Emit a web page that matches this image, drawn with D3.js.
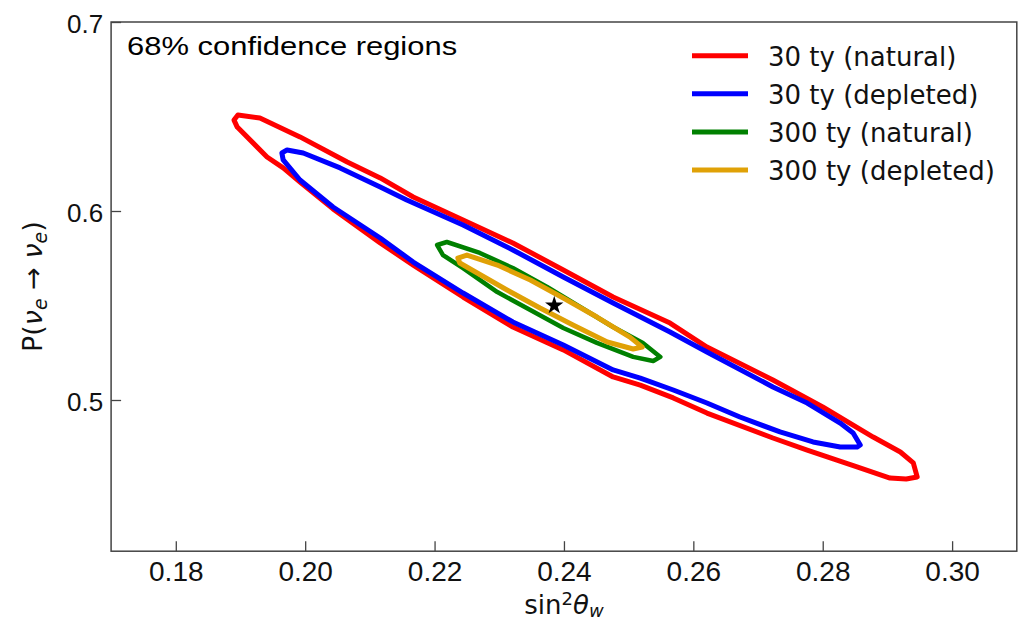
<!DOCTYPE html>
<html lang="en">
<head>
  <meta charset="UTF-8">
  <title>68% confidence regions</title>
  <script src="https://d3js.org/d3.v7.min.js"></script>
  <style>
    body { margin: 0; background: #fff; }
    svg { display: block; font-family: 'DejaVu Sans', sans-serif; }
  </style>
</head>
<body>
  <div id="chart"></div>
  <script>
    // axis ranges and ticks
    const xDomain = [0.17, 0.31];
    const yDomain = [0.42, 0.7];
    const xTicks = [0.18, 0.20, 0.22, 0.24, 0.26, 0.28, 0.30];
    const yTicks = [0.5, 0.6, 0.7];

    const seriesNames = ["30 ty (natural)", "30 ty (depleted)", "300 ty (natural)", "300 ty (depleted)"];

    // contour points: [sin^2 theta_w, P]
    const natural30 = [
      [0.1890, 0.6481], [0.1896, 0.6508], [0.1930, 0.6492], [0.1992, 0.6392], [0.2065, 0.6259],
      [0.2116, 0.6175], [0.2167, 0.6074], [0.2244, 0.5952], [0.2321, 0.5831], [0.2399, 0.5688],
      [0.2476, 0.5545], [0.2564, 0.5407], [0.2621, 0.5280], [0.2723, 0.5106], [0.2800, 0.4963],
      [0.2878, 0.4804], [0.2920, 0.4725], [0.2940, 0.4667], [0.2946, 0.4593], [0.2929, 0.4582],
      [0.2904, 0.4587], [0.2853, 0.4646], [0.2776, 0.4735], [0.2723, 0.4799], [0.2621, 0.4931],
      [0.2569, 0.5011], [0.2518, 0.5079], [0.2476, 0.5122], [0.2399, 0.5265], [0.2321, 0.5386],
      [0.2244, 0.5545], [0.2167, 0.5714], [0.2116, 0.5831], [0.2043, 0.6011], [0.1992, 0.6153],
      [0.1966, 0.6228], [0.1941, 0.6286], [0.1895, 0.6444]
    ];
    const depleted30 = [
      [0.1964, 0.6307], [0.1972, 0.6323], [0.1997, 0.6307], [0.2054, 0.6228], [0.2116, 0.6127],
      [0.2157, 0.6058], [0.2244, 0.5926], [0.2321, 0.5794], [0.2399, 0.5651], [0.2476, 0.5513],
      [0.2564, 0.5360], [0.2621, 0.5254], [0.2723, 0.5069], [0.2776, 0.4984], [0.2827, 0.4878],
      [0.2847, 0.4825], [0.2858, 0.4762], [0.2853, 0.4751], [0.2827, 0.4751], [0.2785, 0.4778],
      [0.2734, 0.4831], [0.2672, 0.4910], [0.2621, 0.4984], [0.2569, 0.5053], [0.2518, 0.5116],
      [0.2476, 0.5159], [0.2399, 0.5291], [0.2321, 0.5413], [0.2244, 0.5566], [0.2167, 0.5730],
      [0.2116, 0.5857], [0.2043, 0.6021], [0.1992, 0.6164], [0.1966, 0.6270]
    ];
    const natural300 = [
      [0.2204, 0.5820], [0.2219, 0.5836], [0.2270, 0.5778], [0.2321, 0.5698], [0.2374, 0.5598],
      [0.2425, 0.5492], [0.2476, 0.5386], [0.2522, 0.5302], [0.2549, 0.5228], [0.2538, 0.5206],
      [0.2507, 0.5228], [0.2451, 0.5302], [0.2399, 0.5381], [0.2348, 0.5476], [0.2297, 0.5571],
      [0.2244, 0.5698], [0.2213, 0.5767]
    ];
    const depleted300 = [
      [0.2236, 0.5751], [0.2250, 0.5767], [0.2297, 0.5714], [0.2348, 0.5635], [0.2399, 0.5540],
      [0.2451, 0.5439], [0.2502, 0.5333], [0.2521, 0.5280], [0.2507, 0.5270], [0.2467, 0.5307],
      [0.2414, 0.5397], [0.2363, 0.5487], [0.2312, 0.5582], [0.2266, 0.5672], [0.2239, 0.5725]
    ];
    const contours = [natural30, depleted30, natural300, depleted300];

    // best fit point
    const bestFit = [0.2385, 0.550];

    const colors = ["#ff0000", "#0000ff", "#008000", "#e0a106"];
    const widths = [5, 5, 4.5, 5];

    const W = 1024, H = 621;
    const margin = { top: 22, right: 7.2, bottom: 69.8, left: 111.1 };
    const width = W - margin.left - margin.right,
          height = H - margin.top - margin.bottom;

    const svg = d3.select("#chart").append("svg")
      .attr("width", W)
      .attr("height", H);

    const g = svg.append("g")
      .attr("transform", `translate(${margin.left},${margin.top})`);

    const x = d3.scaleLinear().domain(xDomain).range([0, width]);
    const y = d3.scaleLinear().domain(yDomain).range([height, 0]);

    // axes, ticks pointing inward
    const xAxis = g.append("g")
      .attr("transform", `translate(0,${height})`)
      .call(d3.axisBottom(x).tickValues(xTicks).tickFormat(d3.format(".2f"))
        .tickSizeInner(-10).tickSizeOuter(0).tickPadding(10));
    xAxis.selectAll("text").style("font-size", "28px").attr("fill", "#111");

    const yAxis = g.append("g")
      .call(d3.axisLeft(y).tickValues(yTicks).tickFormat(d3.format(".1f"))
        .tickSizeInner(-10).tickSizeOuter(0).tickPadding(8));
    yAxis.selectAll("text").style("font-size", "26px").attr("fill", "#111").attr("dy", "0.42em");

    g.selectAll(".domain").remove();
    g.selectAll(".tick line").attr("stroke", "#444").attr("stroke-width", 1.3);

    // frame
    g.append("rect")
      .attr("width", width)
      .attr("height", height)
      .attr("fill", "none")
      .attr("stroke", "#444")
      .attr("stroke-width", 1.5);

    // contours
    const line = d3.line()
      .x(d => x(d[0]))
      .y(d => y(d[1]))
      .curve(d3.curveLinearClosed);

    g.selectAll(".contour")
      .data(contours)
      .enter()
      .append("path")
      .attr("class", "contour")
      .attr("d", line)
      .attr("fill", "none")
      .attr("stroke", (d, i) => colors[i])
      .attr("stroke-width", (d, i) => widths[i])
      .attr("stroke-linejoin", "round");

    g.append("path")
      .attr("d", d3.symbol().type(d3.symbolStar).size(105))
      .attr("transform", `translate(${x(bestFit[0])},${y(bestFit[1])})`)
      .attr("fill", "#000");

    // annotation
    g.append("text")
      .attr("x", 16)
      .attr("y", 33)
      .attr("textLength", 330)
      .attr("lengthAdjust", "spacingAndGlyphs")
      .style("font-family", "'Liberation Sans', Arial, sans-serif")
      .style("font-size", "26px")
      .attr("fill", "#000")
      .text("68% confidence regions");

    // legend
    const legend = g.append("g")
      .attr("transform", `translate(${692 - margin.left},${55.7 - margin.top})`);
    seriesNames.forEach((name, i) => {
      const row = legend.append("g").attr("transform", `translate(0,${i * 38.1})`);
      row.append("line")
        .attr("x1", 0).attr("x2", 56)
        .attr("stroke", colors[i])
        .attr("stroke-width", 5);
      row.append("text")
        .attr("x", 76)
        .attr("y", 10)
        .style("font-size", "26px")
        .attr("fill", "#111")
        .text(name);
    });

    // axis labels
    const xl = svg.append("text")
      .attr("x", margin.left + width / 2)
      .attr("y", 614)
      .attr("text-anchor", "middle")
      .style("font-size", "26px")
      .attr("fill", "#111");
    xl.append("tspan").text("sin");
    xl.append("tspan").attr("dy", -9).style("font-size", "18px").text("2");
    xl.append("tspan").attr("dy", 9).style("font-style", "italic").text("θ");
    xl.append("tspan").attr("dy", 3).style("font-size", "18px").style("font-style", "italic").text("w");

    const yl = svg.append("text")
      .attr("transform", `translate(42,${margin.top + height / 2}) rotate(-90)`)
      .attr("text-anchor", "middle")
      .style("font-size", "27px")
      .attr("fill", "#111");
    yl.append("tspan").text("P(");
    yl.append("tspan").style("font-style", "italic").text("ν");
    yl.append("tspan").attr("dy", 5).style("font-size", "19px").style("font-style", "italic").text("e");
    yl.append("tspan").attr("dy", -5).text(" → ");
    yl.append("tspan").style("font-style", "italic").text("ν");
    yl.append("tspan").attr("dy", 5).style("font-size", "19px").style("font-style", "italic").text("e");
    yl.append("tspan").attr("dy", -5).text(")");
  </script>
</body>
</html>
